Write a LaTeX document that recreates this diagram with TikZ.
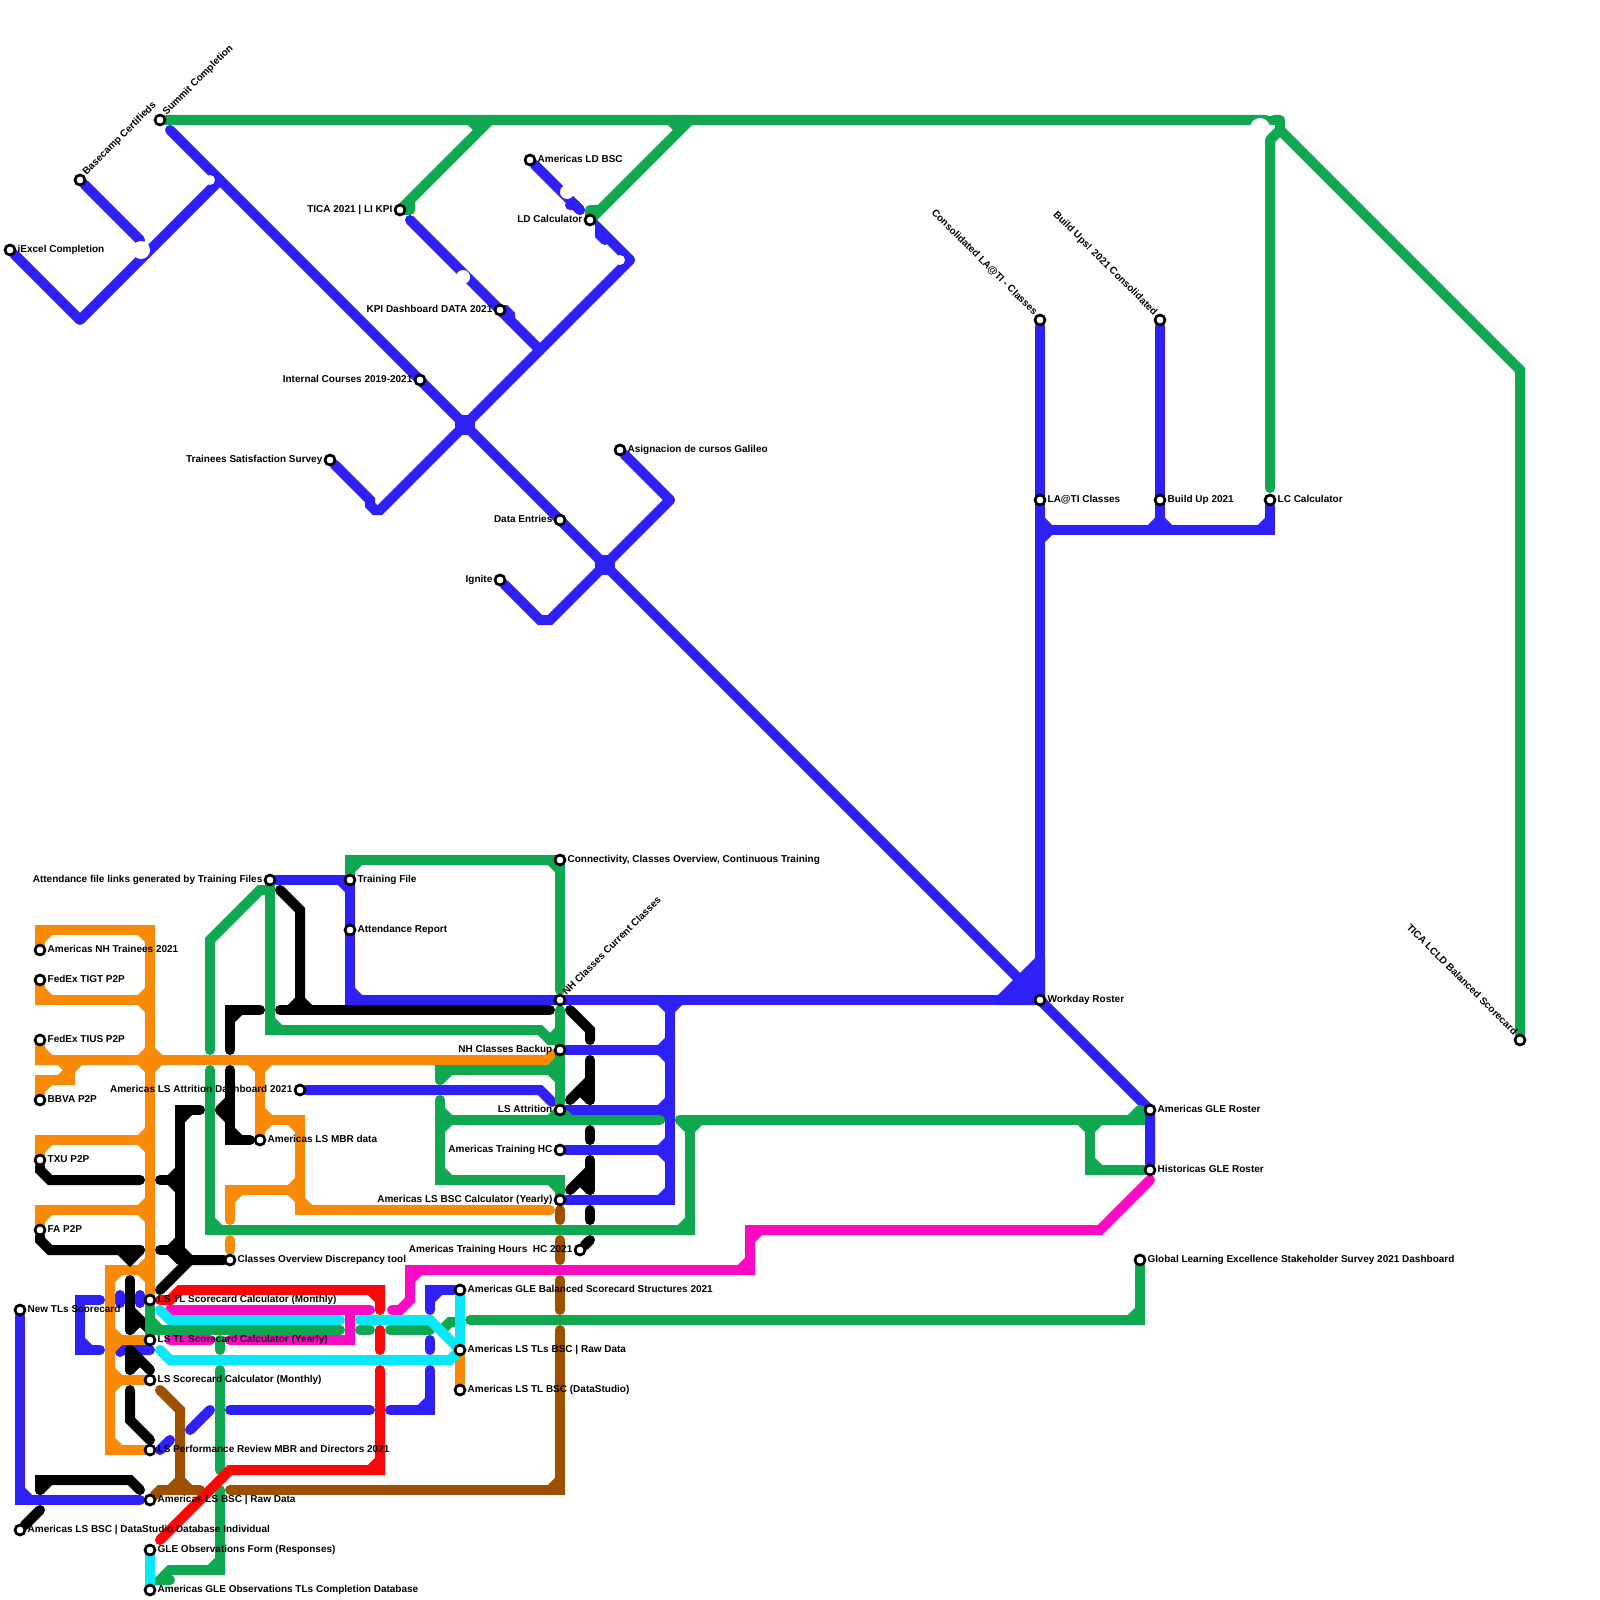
\documentclass[tikz,border=0pt]{standalone}
\usepackage{fontspec}
\setmainfont{Liberation Sans}
\usepackage{xcolor}
\usepackage{tikz}
\usetikzlibrary{backgrounds}

\definecolor{rblue}{HTML}{2F20F5}
\definecolor{rorange}{HTML}{F98A08}
\definecolor{rgreen}{HTML}{0FA850}
\definecolor{rbrown}{HTML}{9C5000}
\definecolor{rred}{HTML}{F90808}
\definecolor{rmagenta}{HTML}{F90BC3}
\definecolor{rcyan}{HTML}{08E8F8}

\begin{document}
\begin{tikzpicture}[x=1pt,y=-1pt]

\tikzset{
    route/.style={
        line width=10pt,
        line cap=round,
        color=#1
    },
    stop/.style={
        circle,
        draw=black,
        fill=white,
        line width=2.7pt,
        minimum size=10pt,
        inner sep=0pt
    },
    lbl/.style={
        font=\bfseries\fontsize{10}{12}\selectfont,
        text=black,
        inner sep=0pt,
        text height=7.5pt,
        text depth=2pt,
        yshift=0.5pt
    },
    label distance=1.1pt
}

% corner cuts, given as end points of a short diagonal
\def\cuts#1#2{
    \foreach \xa/\ya/\xb/\yb in {#2}{
        \draw[route=#1] (\xa,\ya) -- (\xb,\yb);
    }
}

\useasboundingbox (0,0) rectangle (1600,1600);

% Stops, label on the right
\foreach \n/\x/\y/\t in {
    iexcel/10/250/iExcel Completion, ldbsc/530/160/Americas LD BSC,
    asignacion/620/450/Asignacion de cursos Galileo, latis/1040/500/LA@TI Classes,
    buildup/1160/500/Build Up 2021, lccalc/1270/500/LC Calculator,
    workday/1040/1000/Workday Roster, glroster/1150/1110/Americas GLE Roster,
    historicas/1150/1170/Historicas GLE Roster,
    gles/1140/1260/Global Learning Excellence Stakeholder Survey 2021 Dashboard,
    connectivity/560/860/{Connectivity, Classes Overview, Continuous Training},
    training/350/880/Training File, attendance/350/930/Attendance Report,
    glebal/460/1290/Americas GLE Balanced Scorecard Structures 2021,
    tlsraw/460/1350/Americas LS TLs BSC | Raw Data,
    tlbsc/460/1390/Americas LS TL BSC (DataStudio),
    mbr/260/1140/Americas LS MBR data, overview/230/1260/Classes Overview Discrepancy tool,
    nhtrainees/40/950/Americas NH Trainees 2021, tigt/40/980/FedEx TIGT P2P,
    tius/40/1040/FedEx TIUS P2P, bbva/40/1100/BBVA P2P, txu/40/1160/TXU P2P,
    fa/40/1230/FA P2P, newtls/20/1310/New TLs Scorecard,
    lstlm/150/1300/LS TL Scorecard Calculator (Monthly),
    lstly/150/1340/LS TL Scorecard Calculator (Yearly),
    lsscore/150/1380/LS Scorecard Calculator (Monthly),
    lsperf/150/1450/LS Performance Review MBR and Directors 2021,
    lsraw/150/1500/Americas LS BSC | Raw Data,
    dsind/20/1530/Americas LS BSC | DataStudio Database Individual,
    gleform/150/1550/GLE Observations Form (Responses),
    gletls/150/1590/Americas GLE Observations TLs Completion Database}{
    \node[stop,label={[lbl]right:\t}] (\n) at (\x,\y) {};
}

% Stops, label on the left
\foreach \n/\x/\y/\t in {
    tica/400/210/TICA 2021 | LI KPI, ld/590/220/LD Calculator,
    kpi/500/310/KPI Dashboard DATA 2021, internal/420/380/Internal Courses 2019-2021,
    trainees/330/460/Trainees Satisfaction Survey, dataent/560/520/Data Entries,
    ignite/500/580/Ignite, attfile/270/880/Attendance file links generated by Training Files,
    nhbackup/560/1050/NH Classes Backup, lsattrition/560/1110/LS Attrition,
    trainhc/560/1150/Americas Training HC,
    bsccalc/560/1200/Americas LS BSC Calculator (Yearly),
    trhours/580/1250/Americas Training Hours~ HC 2021,
    lsattdash/300/1090/Americas LS Attrition Dashboard 2021}{
    \node[stop,label={[lbl]left:\t}] (\n) at (\x,\y) {};
}

% Stops, slanted label
\foreach \n/\x/\y/\t in {
    basecamp/80/180/Basecamp Certifieds, summit/160/120/Summit Completion,
    nhcurrent/560/1000/NH Classes Current Classes}{
    \node[stop,label={[lbl,rotate=45,anchor=west]45:\t}] (\n) at (\x,\y) {};
}
\foreach \n/\x/\y/\t in {
    consolidated/1040/320/Consolidated LA@TI - Classes,
    buildups/1160/320/Build Ups! 2021 Consolidated,
    lcld/1520/1040/TICA LCLD Balanced Scorecard}{
    \node[stop,label={[lbl,rotate=-45,anchor=east]135:\t}] (\n) at (\x,\y) {};
}

\begin{scope}[on background layer]
\fill[white] (0,0) rectangle (1600,1600);

% Blue, upper map
\draw[route=rblue,line join=round] (iexcel) -- (80,320) -- (220,180);
\draw[route=rblue] (basecamp) -- (140,240);
\draw[route=rblue] (170,130) -- (workday.center) -- (glroster.center) -- (historicas);
\draw[route=rblue] (410,220) -- (kpi.center) -- (540,350);
\draw[route=rblue] (kpi.center) -- (505,310) -- (510,315) -- (510,320);
\draw[route=rblue] (ldbsc) -- (570,200) -- (580,210);
\draw[route=rblue] (570,205) -- (575,205) -- (580,210);
\draw[route=rblue] (trainees) -- (370,500) -- (370,505) -- (375,510) -- (380,510) -- (630,260);
\draw[route=rblue] (630,260) -- (600,230) -- (600,235) -- (605,240);
\draw[route=rblue] (asignacion) -- (670,500);
\draw[route=rblue] (670,500) -- (550,620) -- (540,620) -- (ignite);
\foreach \x/\y in {465/425,605/565}{
    \fill[rblue] (\x-10,\y-5) rectangle (\x+10,\y+5);
    \fill[rblue] (\x-5,\y-10) rectangle (\x+5,\y+10);
}
\draw[route=rblue] (consolidated) -- (workday.center);
\draw[route=rblue] (buildups) -- (1160,530);
\draw[route=rblue] (1040,530) -- (1270,530) -- (lccalc);
\fill[rblue] (1035,958) -- (998,995) -- (998,1005) -- (1045,1005) -- (1045,958) -- cycle;
\cuts{rblue}{1040/520/1050/530,1040/540/1050/530,1150/530/1160/520,1160/520/1170/530,1260/530/1270/520}

% Blue, lower map
\draw[route=rblue] (attfile) -- (training.center) -- (350,1000) -- (workday.center);
\draw[route=rblue] (670,1000) -- (670,1200) -- (bsccalc);
\draw[route=rblue] (nhbackup) -- (670,1050);
\draw[route=rblue] (lsattrition) -- (670,1110);
\draw[route=rblue] (trainhc) -- (670,1150);
\draw[route=rblue] (lsattdash) -- (540,1090) -- (552,1102);
\cuts{rblue}{340/880/350/890,350/990/360/1000,660/1000/670/1010,670/1010/680/1000,
    660/1050/670/1040,660/1050/670/1060,660/1110/670/1100,660/1110/670/1120,
    660/1150/670/1140,660/1150/670/1160,660/1200/670/1190}
\draw[route=rblue] (newtls) -- (20,1500) -- (140,1500);
\draw[route=rblue] (100,1300) -- (80,1300) -- (80,1350) -- (100,1350);
\draw[route=rblue] (120,1295) -- (120,1303);
\draw[route=rblue] (140,1295) -- (140,1303);
\draw[route=rblue] (120,1352) -- (122,1350) -- (150,1350);
\draw[route=rblue] (160,1450) -- (170,1440);
\draw[route=rblue] (190,1430) -- (210,1410);
\draw[route=rblue] (230,1410) -- (370,1410);
\draw[route=rblue] (390,1410) -- (430,1410) -- (430,1370);
\draw[route=rblue] (430,1340) -- (430,1350);
\draw[route=rblue] (430,1310) -- (430,1290) -- (glebal);
\cuts{rblue}{20/1490/30/1500,80/1340/90/1350,420/1410/430/1400,430/1300/440/1290}

% Brown
\foreach \ya/\yb in {1210/1220,1240/1260,1280/1310}{
    \draw[route=rbrown] (560,\ya) -- (560,\yb);
}
\draw[route=rbrown] (560,1330) -- (560,1490) -- (230,1490);
\draw[route=rbrown] (160,1390) -- (180,1410) -- (180,1490);
\draw[route=rbrown] (lsraw) -- (160,1490) -- (200,1490);
\cuts{rbrown}{550/1490/560/1480,170/1490/180/1480,180/1480/190/1490}

% Orange
\draw[route=rorange] (nhtrainees) -- (40,930) -- (150,930) -- (lstlm);
\draw[route=rorange] (tigt) -- (40,1000) -- (150,1000);
\draw[route=rorange] (tius) -- (40,1060) -- (546,1060) -- (nhbackup);
\draw[route=rorange] (bbva) -- (40,1080) -- (70,1080) -- (70,1060);
\draw[route=rorange] (txu) -- (40,1140) -- (150,1140);
\draw[route=rorange] (fa) -- (40,1210) -- (150,1210);
\draw[route=rorange] (150,1260) -- (140,1270) -- (110,1270) -- (110,1450) -- (lsperf);
\draw[route=rorange] (110,1340) -- (lstly);
\draw[route=rorange] (110,1380) -- (lsscore);
\draw[route=rorange] (260,1060) -- (mbr);
\draw[route=rorange] (260,1120) -- (300,1120) -- (300,1210) -- (550,1210);
\draw[route=rorange] (230,1220) -- (230,1190) -- (300,1190);
\draw[route=rorange] (230,1240) -- (230,1250);
\draw[route=rorange] (tlsraw) -- (tlbsc);
\cuts{rorange}{40/940/50/930,140/930/150/940,40/990/50/1000,140/1000/150/990,140/1000/150/1010,
    40/1050/50/1060,140/1060/150/1050,150/1050/160/1060,140/1060/150/1070,150/1070/160/1060,
    40/1090/50/1080,60/1060/70/1070,70/1070/80/1060,60/1080/70/1070,
    40/1150/50/1140,140/1140/150/1130,140/1140/150/1150,
    40/1220/50/1210,140/1210/150/1200,140/1210/150/1220,
    110/1280/120/1270,140/1270/150/1280,110/1330/120/1340,110/1350/120/1340,
    110/1370/120/1380,110/1390/120/1380,110/1440/120/1450,
    250/1060/260/1070,260/1070/270/1060,260/1110/270/1120,260/1130/270/1120,
    290/1120/300/1130,300/1200/310/1210,290/1190/300/1180,290/1190/300/1200,230/1200/240/1190}

% Black
\draw[route=black] (txu) -- (40,1170) -- (50,1180) -- (140,1180);
\draw[route=black] (fa) -- (40,1240) -- (50,1250) -- (140,1250);
\draw[route=black] (120,1250) -- (130,1260) -- (140,1250);
\draw[route=black] (160,1180) -- (180,1180);
\draw[route=black] (200,1110) -- (180,1110) -- (180,1260);
\draw[route=black] (160,1250) -- (180,1250);
\draw[route=black] (overview) -- (190,1260) -- (160,1290);
\draw[route=black] (130,1280) -- (130,1330);
\draw[route=black] (130,1310) -- (150,1330);
\draw[route=black] (130,1350) -- (130,1370);
\draw[route=black] (130,1350) -- (150,1370);
\draw[route=black] (130,1390) -- (130,1420) -- (150,1440);
\draw[route=black] (40,1490) -- (40,1480) -- (130,1480) -- (140,1490);
\draw[route=black] (dsind) -- (40,1510);
\draw[route=black] (280,890) -- (300,910) -- (300,1010);
\draw[route=black] (280,1010) -- (550,1010);
\draw[route=black] (230,1050) -- (230,1010) -- (260,1010);
\draw[route=black] (230,1070) -- (230,1140) -- (250,1140);
\draw[route=black] (570,1010) -- (590,1030) -- (590,1040);
\draw[route=black] (590,1060) -- (590,1100);
\draw[route=black] (570,1100) -- (590,1080);
\draw[route=black] (590,1130) -- (590,1140);
\draw[route=black] (590,1160) -- (590,1190);
\draw[route=black] (570,1190) -- (590,1170);
\draw[route=black] (590,1210) -- (590,1220);
\draw[route=black] (trhours) -- (590,1240);
\cuts{black}{170/1180/180/1170,170/1180/180/1190,180/1120/190/1110,170/1250/180/1240,
    170/1250/180/1260,180/1250/190/1260,130/1330/140/1320,130/1370/140/1360,
    40/1490/50/1480,290/1010/300/1000,300/1000/310/1010,230/1020/240/1010,
    230/1130/240/1140,220/1110/230/1100,220/1110/230/1120,580/1090/590/1100,580/1180/590/1190}

% Green
\draw[route=rgreen,line join=round] (summit) -- (1280,120) -- (1280,130) -- (1270,140) -- (1270,488);
\draw[route=rgreen] (1280,130) -- (1520,370) -- (lcld);
\draw[route=rgreen,line join=round] (490,120) -- (tica.center) -- (410,210) -- (410,200);
\draw[route=rgreen,line join=round] (690,120) -- (ld.center) -- (590,210) -- (600,210);
\draw[route=rgreen] (training) -- (350,860) -- (connectivity.center) -- (560,990);
\draw[route=rgreen] (210,1050) -- (210,940) -- (260,890) -- (270,890) -- (270,1030) -- (540,1030) -- (550,1040) -- (560,1040);
\draw[route=rgreen] (560,1010) -- (lsattrition);
\draw[route=rgreen] (440,1080) -- (440,1070) -- (560,1070);
\draw[route=rgreen] (440,1100) -- (440,1180) -- (560,1180) -- (bsccalc);
\draw[route=rgreen] (440,1120) -- (660,1120);
\draw[route=rgreen] (680,1120) -- (1140,1120) -- (1140,1110);
\draw[route=rgreen] (690,1120) -- (690,1230) -- (210,1230) -- (210,1070);
\draw[route=rgreen] (1090,1120) -- (1090,1170) -- (historicas);
\draw[route=rgreen] (470,1320) -- (1140,1320) -- (gles);
\draw[route=rgreen] (lstlm) -- (150,1330) -- (340,1330);
\draw[route=rgreen] (360,1330) -- (370,1330);
\draw[route=rgreen] (390,1330) -- (430,1330);
\draw[route=rgreen] (442,1330) -- (450,1322) -- (457,1322);
\draw[route=rgreen] (220,1340) -- (220,1350);
\draw[route=rgreen] (220,1370) -- (220,1470);
\draw[route=rgreen] (220,1490) -- (220,1570) -- (170,1570) -- (160,1580) -- (170,1580);
\cuts{rgreen}{470/120/480/130,670/120/680/130,350/870/360/860,550/860/560/870,
    270/1020/280/1030,550/1040/560/1030,440/1080/450/1070,550/1070/560/1060,550/1070/560/1080,
    440/1170/450/1180,550/1180/560/1190,440/1110/450/1120,440/1130/450/1120,
    550/1120/560/1110,560/1110/570/1120,1130/1120/1140/1110,680/1120/690/1130,690/1130/700/1120,
    680/1230/690/1220,210/1220/220/1230,1080/1120/1090/1130,1090/1130/1100/1120,
    1090/1160/1100/1170,1130/1320/1140/1310,150/1320/160/1330,210/1570/220/1560}

% Magenta
\draw[route=rmagenta] (170,1310) -- (370,1310);
\draw[route=rmagenta] (350,1310) -- (350,1340) -- (230,1340);
\draw[route=rmagenta] (170,1340) -- (210,1340);
\draw[route=rmagenta] (392,1310) -- (400,1310) -- (410,1300) -- (410,1270) -- (750,1270)
    -- (750,1230) -- (1100,1230) -- (1150,1180);
\cuts{rmagenta}{410/1280/420/1270,740/1270/750/1260,750/1240/760/1230}

% Cyan
\draw[route=rcyan] (160,1310) -- (170,1320) -- (340,1320);
\draw[route=rcyan] (360,1320) -- (430,1320) -- (tlsraw.center);
\draw[route=rcyan] (160,1350) -- (170,1360) -- (450,1360) -- (tlsraw);
\draw[route=rcyan] (glebal) -- (tlsraw);
\draw[route=rcyan] (gleform) -- (gletls);

% Red
\draw[route=rred] (160,1300) -- (170,1300) -- (180,1290) -- (380,1290) -- (380,1310);
\draw[route=rred] (380,1330) -- (380,1350);
\draw[route=rred] (380,1370) -- (380,1470) -- (230,1470) -- (160,1540);
\cuts{rred}{370/1290/380/1300,370/1470/380/1460}

% White spots
\foreach \x/\y/\r in {141/250/9,210/180/5,463/277/7,567/192/7,620/260/5,1260/128/10,1270/108/8}{
    \fill[white] (\x,\y) circle (\r pt);
}
\end{scope}
\end{tikzpicture}
\end{document}
